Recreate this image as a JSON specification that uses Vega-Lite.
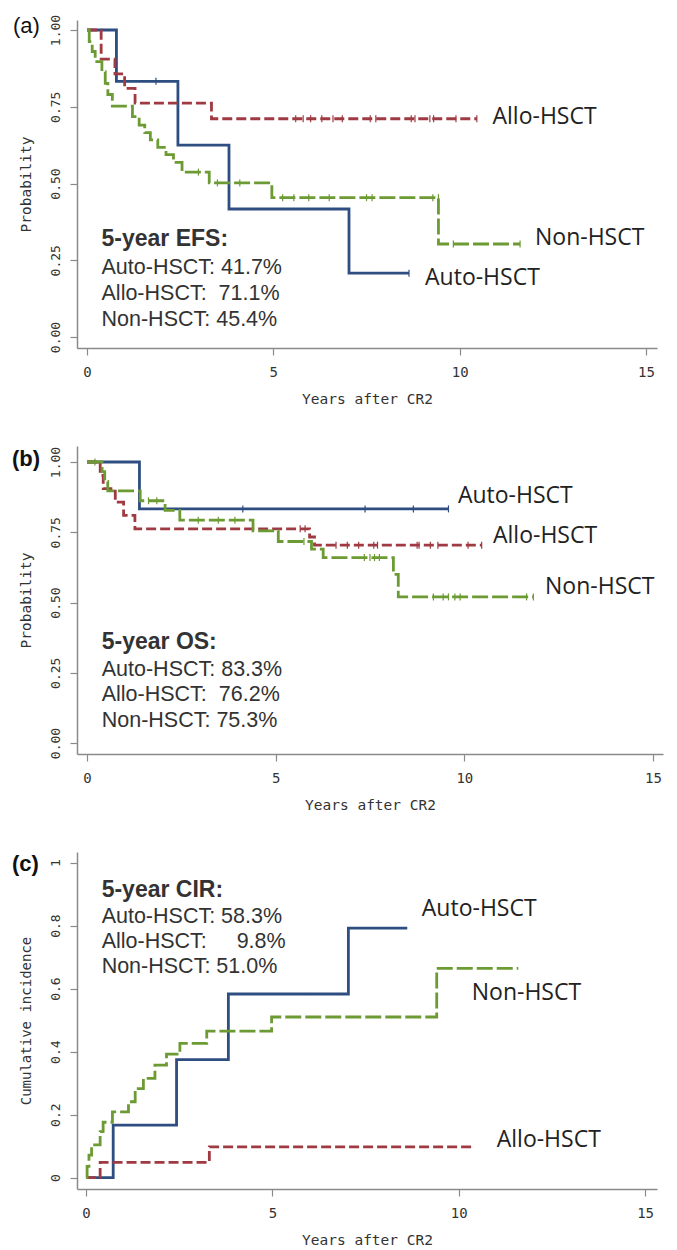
{
"$schema": "https://vega.github.io/schema/vega-lite/v6.json",
"autosize": {"type": "none"},
"padding": {"left": 77, "top": 20, "right": 600, "bottom": 1230},
"background": "white",
"config": {
  "view": {"stroke": null},
  "axis": {"domainColor": "#8a8a8a", "domainWidth": 1.5, "tickColor": "#8a8a8a", "tickWidth": 1.2, "tickSize": 7, "labelFont": "DejaVu Sans Mono", "labelColor": "#333", "labelFontSize": 14, "titleFont": "DejaVu Sans Mono", "titleFontWeight": "normal", "titleColor": "#333", "titleFontSize": 14.5, "grid": false}
},
"datasets": {
  "curves": [
    {"panel":"a","group":"Auto-HSCT","t":0,"p":1},{"panel":"a","group":"Auto-HSCT","t":0.79,"p":0.833},{"panel":"a","group":"Auto-HSCT","t":2.44,"p":0.625},{"panel":"a","group":"Auto-HSCT","t":3.81,"p":0.417},{"panel":"a","group":"Auto-HSCT","t":7.03,"p":0.208},{"panel":"a","group":"Auto-HSCT","t":8.64,"p":0.208},
    {"panel":"a","group":"Allo-HSCT","t":0,"p":1},{"panel":"a","group":"Allo-HSCT","t":0.38,"p":0.905},{"panel":"a","group":"Allo-HSCT","t":0.75,"p":0.857},{"panel":"a","group":"Allo-HSCT","t":1.01,"p":0.81},{"panel":"a","group":"Allo-HSCT","t":1.29,"p":0.762},{"panel":"a","group":"Allo-HSCT","t":3.34,"p":0.711},{"panel":"a","group":"Allo-HSCT","t":10.46,"p":0.711},
    {"panel":"a","group":"Non-HSCT","t":0,"p":1},{"panel":"a","group":"Non-HSCT","t":0.06,"p":0.962},{"panel":"a","group":"Non-HSCT","t":0.14,"p":0.93},{"panel":"a","group":"Non-HSCT","t":0.22,"p":0.897},{"panel":"a","group":"Non-HSCT","t":0.4,"p":0.864},{"panel":"a","group":"Non-HSCT","t":0.49,"p":0.826},{"panel":"a","group":"Non-HSCT","t":0.56,"p":0.79},{"panel":"a","group":"Non-HSCT","t":0.68,"p":0.752},{"panel":"a","group":"Non-HSCT","t":1.22,"p":0.718},{"panel":"a","group":"Non-HSCT","t":1.4,"p":0.69},{"panel":"a","group":"Non-HSCT","t":1.55,"p":0.666},{"panel":"a","group":"Non-HSCT","t":1.7,"p":0.642},{"panel":"a","group":"Non-HSCT","t":1.9,"p":0.618},{"panel":"a","group":"Non-HSCT","t":2.12,"p":0.594},{"panel":"a","group":"Non-HSCT","t":2.32,"p":0.569},{"panel":"a","group":"Non-HSCT","t":2.55,"p":0.537},{"panel":"a","group":"Non-HSCT","t":3.28,"p":0.502},{"panel":"a","group":"Non-HSCT","t":4.96,"p":0.454},{"panel":"a","group":"Non-HSCT","t":9.43,"p":0.303},{"panel":"a","group":"Non-HSCT","t":11.62,"p":0.303},
    {"panel":"b","group":"Auto-HSCT","t":0,"p":1},{"panel":"b","group":"Auto-HSCT","t":1.39,"p":0.833},{"panel":"b","group":"Auto-HSCT","t":9.58,"p":0.833},
    {"panel":"b","group":"Allo-HSCT","t":0,"p":1},{"panel":"b","group":"Allo-HSCT","t":0.35,"p":0.952},{"panel":"b","group":"Allo-HSCT","t":0.43,"p":0.905},{"panel":"b","group":"Allo-HSCT","t":0.75,"p":0.857},{"panel":"b","group":"Allo-HSCT","t":0.97,"p":0.81},{"panel":"b","group":"Allo-HSCT","t":1.27,"p":0.762},{"panel":"b","group":"Allo-HSCT","t":5.9,"p":0.733},{"panel":"b","group":"Allo-HSCT","t":6.03,"p":0.704},{"panel":"b","group":"Allo-HSCT","t":10.46,"p":0.704},
    {"panel":"b","group":"Non-HSCT","t":0,"p":1},{"panel":"b","group":"Non-HSCT","t":0.4,"p":0.966},{"panel":"b","group":"Non-HSCT","t":0.47,"p":0.931},{"panel":"b","group":"Non-HSCT","t":0.55,"p":0.897},{"panel":"b","group":"Non-HSCT","t":1.41,"p":0.862},{"panel":"b","group":"Non-HSCT","t":2.07,"p":0.828},{"panel":"b","group":"Non-HSCT","t":2.46,"p":0.793},{"panel":"b","group":"Non-HSCT","t":4.4,"p":0.755},{"panel":"b","group":"Non-HSCT","t":5.07,"p":0.717},{"panel":"b","group":"Non-HSCT","t":5.95,"p":0.69},{"panel":"b","group":"Non-HSCT","t":6.26,"p":0.66},{"panel":"b","group":"Non-HSCT","t":8.12,"p":0.6},{"panel":"b","group":"Non-HSCT","t":8.25,"p":0.52},{"panel":"b","group":"Non-HSCT","t":11.83,"p":0.52},
    {"panel":"c","group":"Auto-HSCT","t":0,"p":0},{"panel":"c","group":"Auto-HSCT","t":0.73,"p":0.167},{"panel":"c","group":"Auto-HSCT","t":2.43,"p":0.375},{"panel":"c","group":"Auto-HSCT","t":3.82,"p":0.583},{"panel":"c","group":"Auto-HSCT","t":7.04,"p":0.792},{"panel":"c","group":"Auto-HSCT","t":8.62,"p":0.792},
    {"panel":"c","group":"Allo-HSCT","t":0,"p":0},{"panel":"c","group":"Allo-HSCT","t":0.38,"p":0.049},{"panel":"c","group":"Allo-HSCT","t":3.31,"p":0.098},{"panel":"c","group":"Allo-HSCT","t":10.35,"p":0.098},
    {"panel":"c","group":"Non-HSCT","t":0,"p":0},{"panel":"c","group":"Non-HSCT","t":0.03,"p":0.036},{"panel":"c","group":"Non-HSCT","t":0.08,"p":0.072},{"panel":"c","group":"Non-HSCT","t":0.15,"p":0.104},{"panel":"c","group":"Non-HSCT","t":0.38,"p":0.146},{"panel":"c","group":"Non-HSCT","t":0.46,"p":0.176},{"panel":"c","group":"Non-HSCT","t":0.71,"p":0.209},{"panel":"c","group":"Non-HSCT","t":1.14,"p":0.241},{"panel":"c","group":"Non-HSCT","t":1.32,"p":0.283},{"panel":"c","group":"Non-HSCT","t":1.54,"p":0.315},{"panel":"c","group":"Non-HSCT","t":1.85,"p":0.357},{"panel":"c","group":"Non-HSCT","t":2.16,"p":0.392},{"panel":"c","group":"Non-HSCT","t":2.52,"p":0.426},{"panel":"c","group":"Non-HSCT","t":3.24,"p":0.465},{"panel":"c","group":"Non-HSCT","t":4.98,"p":0.51},{"panel":"c","group":"Non-HSCT","t":9.41,"p":0.664},{"panel":"c","group":"Non-HSCT","t":11.6,"p":0.664}
  ],
  "censors": [
    {"panel":"a","group":"Auto-HSCT","t":1.85,"p":0.833},{"panel":"a","group":"Auto-HSCT","t":8.64,"p":0.208},
    {"panel":"a","group":"Allo-HSCT","t":5.6,"p":0.711},{"panel":"a","group":"Allo-HSCT","t":5.8,"p":0.711},{"panel":"a","group":"Allo-HSCT","t":6.0,"p":0.711},{"panel":"a","group":"Allo-HSCT","t":6.3,"p":0.711},{"panel":"a","group":"Allo-HSCT","t":6.6,"p":0.711},{"panel":"a","group":"Allo-HSCT","t":6.85,"p":0.711},{"panel":"a","group":"Allo-HSCT","t":7.6,"p":0.711},{"panel":"a","group":"Allo-HSCT","t":7.75,"p":0.711},{"panel":"a","group":"Allo-HSCT","t":8.7,"p":0.711},{"panel":"a","group":"Allo-HSCT","t":8.8,"p":0.711},{"panel":"a","group":"Allo-HSCT","t":9.2,"p":0.711},{"panel":"a","group":"Allo-HSCT","t":9.3,"p":0.711},{"panel":"a","group":"Allo-HSCT","t":9.9,"p":0.711},{"panel":"a","group":"Allo-HSCT","t":10.46,"p":0.711},
    {"panel":"a","group":"Non-HSCT","t":2.99,"p":0.537},{"panel":"a","group":"Non-HSCT","t":3.5,"p":0.502},{"panel":"a","group":"Non-HSCT","t":4.1,"p":0.502},{"panel":"a","group":"Non-HSCT","t":5.25,"p":0.454},{"panel":"a","group":"Non-HSCT","t":5.55,"p":0.454},{"panel":"a","group":"Non-HSCT","t":5.95,"p":0.454},{"panel":"a","group":"Non-HSCT","t":6.5,"p":0.454},{"panel":"a","group":"Non-HSCT","t":7.5,"p":0.454},{"panel":"a","group":"Non-HSCT","t":7.65,"p":0.454},{"panel":"a","group":"Non-HSCT","t":9.28,"p":0.454},{"panel":"a","group":"Non-HSCT","t":9.43,"p":0.454},{"panel":"a","group":"Non-HSCT","t":9.83,"p":0.303},{"panel":"a","group":"Non-HSCT","t":11.62,"p":0.303},
    {"panel":"b","group":"Auto-HSCT","t":4.13,"p":0.833},{"panel":"b","group":"Auto-HSCT","t":7.37,"p":0.833},{"panel":"b","group":"Auto-HSCT","t":8.65,"p":0.833},{"panel":"b","group":"Auto-HSCT","t":9.58,"p":0.833},
    {"panel":"b","group":"Allo-HSCT","t":5.65,"p":0.762},{"panel":"b","group":"Allo-HSCT","t":5.78,"p":0.762},{"panel":"b","group":"Allo-HSCT","t":6.6,"p":0.704},{"panel":"b","group":"Allo-HSCT","t":6.9,"p":0.704},{"panel":"b","group":"Allo-HSCT","t":7.2,"p":0.704},{"panel":"b","group":"Allo-HSCT","t":7.6,"p":0.704},{"panel":"b","group":"Allo-HSCT","t":7.7,"p":0.704},{"panel":"b","group":"Allo-HSCT","t":8.75,"p":0.704},{"panel":"b","group":"Allo-HSCT","t":8.8,"p":0.704},{"panel":"b","group":"Allo-HSCT","t":9.1,"p":0.704},{"panel":"b","group":"Allo-HSCT","t":9.3,"p":0.704},{"panel":"b","group":"Allo-HSCT","t":10.1,"p":0.704},{"panel":"b","group":"Allo-HSCT","t":10.46,"p":0.704},
    {"panel":"b","group":"Non-HSCT","t":0.21,"p":1},{"panel":"b","group":"Non-HSCT","t":1.63,"p":0.862},{"panel":"b","group":"Non-HSCT","t":1.85,"p":0.862},{"panel":"b","group":"Non-HSCT","t":2.95,"p":0.793},{"panel":"b","group":"Non-HSCT","t":3.48,"p":0.793},{"panel":"b","group":"Non-HSCT","t":3.92,"p":0.793},{"panel":"b","group":"Non-HSCT","t":5.75,"p":0.717},{"panel":"b","group":"Non-HSCT","t":7.35,"p":0.66},{"panel":"b","group":"Non-HSCT","t":7.5,"p":0.66},{"panel":"b","group":"Non-HSCT","t":7.62,"p":0.66},{"panel":"b","group":"Non-HSCT","t":7.75,"p":0.66},{"panel":"b","group":"Non-HSCT","t":9.18,"p":0.52},{"panel":"b","group":"Non-HSCT","t":9.44,"p":0.52},{"panel":"b","group":"Non-HSCT","t":9.58,"p":0.52},{"panel":"b","group":"Non-HSCT","t":9.75,"p":0.52},{"panel":"b","group":"Non-HSCT","t":9.89,"p":0.52},{"panel":"b","group":"Non-HSCT","t":11.65,"p":0.52},{"panel":"b","group":"Non-HSCT","t":11.83,"p":0.52}
  ],
  "labels": [
    {"panel":"a","kind":"curve","text":"Allo-HSCT","t":10.88,"p":0.717},
    {"panel":"a","kind":"curve","text":"Non-HSCT","t":12.02,"p":0.322},
    {"panel":"a","kind":"curve","text":"Auto-HSCT","t":9.07,"p":0.192},
    {"panel":"a","kind":"head","text":"5-year EFS:","t":0.39,"p":0.319},
    {"panel":"a","kind":"line","text":"Auto-HSCT: 41.7%","t":0.39,"p":0.225},
    {"panel":"a","kind":"line","text":"Allo-HSCT:\u00a0\u00a071.1%","t":0.39,"p":0.14},
    {"panel":"a","kind":"line","text":"Non-HSCT: 45.4%","t":0.39,"p":0.055},
    {"panel":"a","kind":"letterN","text":"(a)","t":-1.986,"p":1.013},
    {"panel":"b","kind":"curve","text":"Auto-HSCT","t":9.83,"p":0.879},
    {"panel":"b","kind":"curve","text":"Allo-HSCT","t":10.76,"p":0.737},
    {"panel":"b","kind":"curve","text":"Non-HSCT","t":12.14,"p":0.555},
    {"panel":"b","kind":"head","text":"5-year OS:","t":0.39,"p":0.359},
    {"panel":"b","kind":"line","text":"Auto-HSCT: 83.3%","t":0.39,"p":0.26},
    {"panel":"b","kind":"line","text":"Allo-HSCT:\u00a0\u00a076.2%","t":0.39,"p":0.171},
    {"panel":"b","kind":"line","text":"Non-HSCT: 75.3%","t":0.39,"p":0.078},
    {"panel":"b","kind":"letterB","text":"(b)","t":-1.988,"p":1.011},
    {"panel":"c","kind":"curve","text":"Auto-HSCT","t":9.01,"p":0.852},
    {"panel":"c","kind":"curve","text":"Non-HSCT","t":10.35,"p":0.586},
    {"panel":"c","kind":"curve","text":"Allo-HSCT","t":11.02,"p":0.12},
    {"panel":"c","kind":"head","text":"5-year CIR:","t":0.42,"p":0.912},
    {"panel":"c","kind":"line","text":"Auto-HSCT: 58.3%","t":0.42,"p":0.827},
    {"panel":"c","kind":"line","text":"Allo-HSCT:\u00a0\u00a0\u00a0\u00a0\u00a09.8%","t":0.42,"p":0.747},
    {"panel":"c","kind":"line","text":"Non-HSCT: 51.0%","t":0.42,"p":0.668},
    {"panel":"c","kind":"letterB","text":"(c)","t":-1.986,"p":0.995}
  ]
},
"spacing": 98,
"bounds": "flush",
"vconcat": [
  {
    "width": 580, "height": 328,
    "encoding": {
      "x": {"field": "t", "type": "quantitative", "scale": {"domain": [-0.268, 15.294], "nice": false, "zero": false}, "axis": {"values": [0, 5, 10, 15], "format": "d", "title": "Years after CR2", "labelPadding": 10, "titlePadding": 13}},
      "y": {"field": "p", "type": "quantitative", "scale": {"domain": [-0.0358, 1.0326], "nice": false, "zero": false}, "axis": {"values": [0, 0.25, 0.5, 0.75, 1], "format": ".2f", "title": "Probability", "labelAngle": -90, "labelAlign": "center", "labelBaseline": "bottom", "labelPadding": 8, "labelFontSize": 13, "titlePadding": 16}}
    },
    "layer": [
      {"data": {"name": "curves"}, "transform": [{"filter": "datum.panel === 'a'"}], "mark": {"type": "line", "interpolate": "step-after", "strokeWidth": 2.8},
       "encoding": {"color": {"field": "group", "type": "nominal", "scale": {"domain": ["Auto-HSCT", "Allo-HSCT", "Non-HSCT"], "range": ["#2e4d80", "#a03a42", "#6c9a33"]}, "legend": null},
                    "strokeDash": {"field": "group", "type": "nominal", "scale": {"domain": ["Auto-HSCT", "Allo-HSCT", "Non-HSCT"], "range": [[1, 0], [10, 4], [16, 4]]}, "legend": null}}},
      {"data": {"name": "censors"}, "transform": [{"filter": "datum.panel === 'a'"}], "mark": {"type": "tick", "orient": "vertical", "size": 7, "thickness": 1.2, "opacity": 1},
       "encoding": {"color": {"field": "group", "type": "nominal", "scale": {"domain": ["Auto-HSCT", "Allo-HSCT", "Non-HSCT"], "range": ["#2e4d80", "#a03a42", "#6c9a33"]}, "legend": null}}},
      {"data": {"name": "labels"}, "transform": [{"filter": "datum.panel === 'a' && datum.kind === 'curve'"}], "mark": {"type": "text", "align": "left", "baseline": "middle", "font": "Open Sans", "fontSize": 23, "color": "#222"}, "encoding": {"text": {"field": "text"}}},
      {"data": {"name": "labels"}, "transform": [{"filter": "datum.panel === 'a' && datum.kind === 'head'"}], "mark": {"type": "text", "align": "left", "baseline": "middle", "font": "Liberation Sans", "fontWeight": "bold", "fontSize": 23, "color": "#333"}, "encoding": {"text": {"field": "text"}}},
      {"data": {"name": "labels"}, "transform": [{"filter": "datum.panel === 'a' && datum.kind === 'line'"}], "mark": {"type": "text", "align": "left", "baseline": "middle", "font": "Liberation Sans", "fontSize": 21.5, "color": "#333"}, "encoding": {"text": {"field": "text"}}},
      {"data": {"name": "labels"}, "transform": [{"filter": "datum.panel === 'a' && datum.kind === 'letterN'"}], "mark": {"type": "text", "align": "left", "baseline": "middle", "font": "Liberation Sans", "fontSize": 22, "color": "#111"}, "encoding": {"text": {"field": "text"}}}
    ]
  },
  {
    "width": 586, "height": 308,
    "encoding": {
      "x": {"field": "t", "type": "quantitative", "scale": {"domain": [-0.265, 15.266], "nice": false, "zero": false}, "axis": {"values": [0, 5, 10, 15], "format": "d", "title": "Years after CR2", "labelPadding": 10, "titlePadding": 13}},
      "y": {"field": "p", "type": "quantitative", "scale": {"domain": [-0.0391, 1.0569], "nice": false, "zero": false}, "axis": {"values": [0, 0.25, 0.5, 0.75, 1], "format": ".2f", "title": "Probability", "labelAngle": -90, "labelAlign": "center", "labelBaseline": "bottom", "labelPadding": 8, "labelFontSize": 13, "titlePadding": 16}}
    },
    "layer": [
      {"data": {"name": "curves"}, "transform": [{"filter": "datum.panel === 'b'"}], "mark": {"type": "line", "interpolate": "step-after", "strokeWidth": 2.8},
       "encoding": {"color": {"field": "group", "type": "nominal", "scale": {"domain": ["Auto-HSCT", "Allo-HSCT", "Non-HSCT"], "range": ["#2e4d80", "#a03a42", "#6c9a33"]}, "legend": null},
                    "strokeDash": {"field": "group", "type": "nominal", "scale": {"domain": ["Auto-HSCT", "Allo-HSCT", "Non-HSCT"], "range": [[1, 0], [10, 4], [16, 4]]}, "legend": null}}},
      {"data": {"name": "censors"}, "transform": [{"filter": "datum.panel === 'b'"}], "mark": {"type": "tick", "orient": "vertical", "size": 7, "thickness": 1.2, "opacity": 1},
       "encoding": {"color": {"field": "group", "type": "nominal", "scale": {"domain": ["Auto-HSCT", "Allo-HSCT", "Non-HSCT"], "range": ["#2e4d80", "#a03a42", "#6c9a33"]}, "legend": null}}},
      {"data": {"name": "labels"}, "transform": [{"filter": "datum.panel === 'b' && datum.kind === 'curve'"}], "mark": {"type": "text", "align": "left", "baseline": "middle", "font": "Open Sans", "fontSize": 23, "color": "#222"}, "encoding": {"text": {"field": "text"}}},
      {"data": {"name": "labels"}, "transform": [{"filter": "datum.panel === 'b' && datum.kind === 'head'"}], "mark": {"type": "text", "align": "left", "baseline": "middle", "font": "Liberation Sans", "fontWeight": "bold", "fontSize": 23, "color": "#333"}, "encoding": {"text": {"field": "text"}}},
      {"data": {"name": "labels"}, "transform": [{"filter": "datum.panel === 'b' && datum.kind === 'line'"}], "mark": {"type": "text", "align": "left", "baseline": "middle", "font": "Liberation Sans", "fontSize": 21.5, "color": "#333"}, "encoding": {"text": {"field": "text"}}},
      {"data": {"name": "labels"}, "transform": [{"filter": "datum.panel === 'b' && datum.kind === 'letterB'"}], "mark": {"type": "text", "align": "left", "baseline": "middle", "font": "Liberation Sans", "fontWeight": "bold", "fontSize": 22, "color": "#111"}, "encoding": {"text": {"field": "text"}}}
    ]
  },
  {
    "width": 580, "height": 337,
    "encoding": {
      "x": {"field": "t", "type": "quantitative", "scale": {"domain": [-0.241, 15.32], "nice": false, "zero": false}, "axis": {"values": [0, 5, 10, 15], "format": "d", "title": "Years after CR2", "labelPadding": 10, "titlePadding": 13}},
      "y": {"field": "p", "type": "quantitative", "scale": {"domain": [-0.0358, 1.0336], "nice": false, "zero": false}, "axis": {"values": [0, 0.2, 0.4, 0.6, 0.8, 1], "format": "~g", "title": "Cumulative incidence", "labelAngle": -90, "labelAlign": "center", "labelBaseline": "bottom", "labelPadding": 8, "labelFontSize": 13, "titlePadding": 16, "titleFontSize": 14}}
    },
    "layer": [
      {"data": {"name": "curves"}, "transform": [{"filter": "datum.panel === 'c'"}], "mark": {"type": "line", "interpolate": "step-after", "strokeWidth": 2.8},
       "encoding": {"color": {"field": "group", "type": "nominal", "scale": {"domain": ["Auto-HSCT", "Allo-HSCT", "Non-HSCT"], "range": ["#2e4d80", "#a03a42", "#6c9a33"]}, "legend": null},
                    "strokeDash": {"field": "group", "type": "nominal", "scale": {"domain": ["Auto-HSCT", "Allo-HSCT", "Non-HSCT"], "range": [[1, 0], [10, 4], [16, 4]]}, "legend": null}}},
      {"data": {"name": "labels"}, "transform": [{"filter": "datum.panel === 'c' && datum.kind === 'curve'"}], "mark": {"type": "text", "align": "left", "baseline": "middle", "font": "Open Sans", "fontSize": 23, "color": "#222"}, "encoding": {"text": {"field": "text"}}},
      {"data": {"name": "labels"}, "transform": [{"filter": "datum.panel === 'c' && datum.kind === 'head'"}], "mark": {"type": "text", "align": "left", "baseline": "middle", "font": "Liberation Sans", "fontWeight": "bold", "fontSize": 23, "color": "#333"}, "encoding": {"text": {"field": "text"}}},
      {"data": {"name": "labels"}, "transform": [{"filter": "datum.panel === 'c' && datum.kind === 'line'"}], "mark": {"type": "text", "align": "left", "baseline": "middle", "font": "Liberation Sans", "fontSize": 21.5, "color": "#333"}, "encoding": {"text": {"field": "text"}}},
      {"data": {"name": "labels"}, "transform": [{"filter": "datum.panel === 'c' && datum.kind === 'letterB'"}], "mark": {"type": "text", "align": "left", "baseline": "middle", "font": "Liberation Sans", "fontWeight": "bold", "fontSize": 22, "color": "#111"}, "encoding": {"text": {"field": "text"}}}
    ]
  }
]
}
